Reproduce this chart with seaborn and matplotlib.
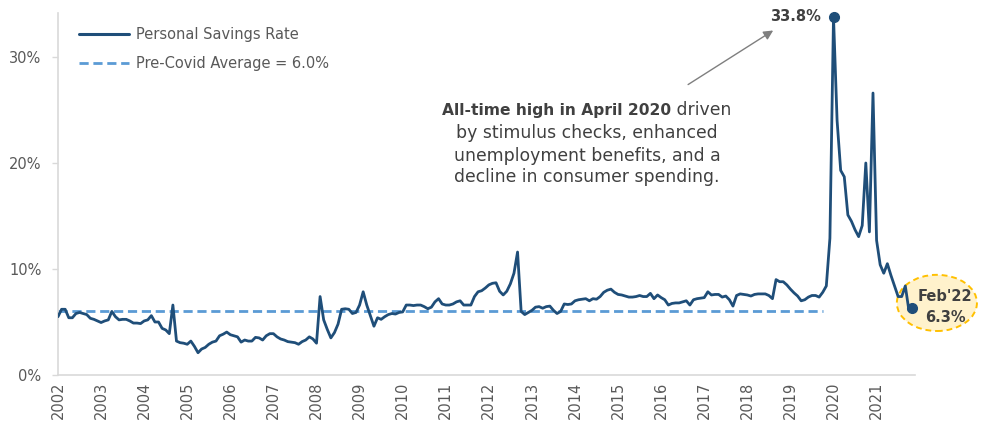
import matplotlib
matplotlib.use("Agg")
import matplotlib.pyplot as plt
import seaborn as sns
import numpy as np
import pandas as pd
from matplotlib.patches import Ellipse
from matplotlib.lines import Line2D

# ---------------- data (monthly, Apr 2002 .. Feb 2022) ----------------
savings_rate = [
    5.5, 6.2, 6.2, 5.4, 5.4, 5.8, 5.9, 5.8, 5.7, 5.35, 5.25, 5.1,
    4.95, 5.1, 5.2, 6.0, 5.5, 5.2, 5.25, 5.25, 5.1, 4.9, 4.9, 4.85,
    5.1, 5.2, 5.6, 5.0, 5.0, 4.4, 4.25, 3.9, 6.6, 3.2, 3.05, 3.0,
    2.9, 3.2, 2.7, 2.1, 2.45, 2.6, 2.9, 3.1, 3.2, 3.7, 3.85, 4.05,
    3.8, 3.7, 3.6, 3.1, 3.3, 3.2, 3.2, 3.55, 3.5, 3.3, 3.7, 3.9,
    3.9, 3.6, 3.4, 3.3, 3.15, 3.1, 3.05, 2.9, 3.15, 3.3, 3.6, 3.4,
    3.0, 7.4, 5.2, 4.3, 3.5, 4.0, 4.8, 6.2, 6.25, 6.2, 5.8, 5.9,
    6.6, 7.85, 6.6, 5.6, 4.6, 5.4, 5.25, 5.5, 5.7, 5.8, 5.75, 5.9,
    5.95, 6.6, 6.6, 6.55, 6.6, 6.6, 6.45, 6.25, 6.4, 6.9, 7.2, 6.7,
    6.6, 6.6, 6.7, 6.9, 7.0, 6.6, 6.6, 6.6, 7.4, 7.85, 7.95, 8.2,
    8.5, 8.65, 8.7, 7.9, 7.55, 7.9, 8.6, 9.6, 11.6, 6.0, 5.7, 5.9,
    6.1, 6.4, 6.45, 6.3, 6.45, 6.5, 6.1, 5.8, 6.0, 6.7, 6.65, 6.7,
    7.0, 7.1, 7.15, 7.2, 7.0, 7.2, 7.15, 7.4, 7.8, 8.0, 8.1, 7.8,
    7.6, 7.55, 7.45, 7.35, 7.35, 7.4, 7.5, 7.4, 7.4, 7.7, 7.2, 7.55,
    7.3, 7.1, 6.6, 6.75, 6.8, 6.8, 6.9, 7.0, 6.6, 7.1, 7.2, 7.25,
    7.3, 7.85, 7.55, 7.6, 7.6, 7.35, 7.45, 7.1, 6.5, 7.5, 7.65, 7.6,
    7.55, 7.45, 7.6, 7.65, 7.65, 7.65, 7.5, 7.2, 9.0, 8.8, 8.8, 8.5,
    8.1, 7.75, 7.45, 7.0, 7.1, 7.35, 7.5, 7.5, 7.35, 7.8, 8.4, 12.9,
    33.8, 24.0, 19.3, 18.7, 15.1, 14.5, 13.7, 13.05, 14.1, 20.0, 13.5, 26.6,
    12.7, 10.4, 9.6, 10.5, 9.4, 8.4, 7.4, 7.4, 8.4, 6.1, 6.3,
]
pre_covid_avg = 6.0
pre_covid_last_index = 213          # Jan 2020
year_labels = [str(y) for y in range(2002, 2022)]
year_tick_index = list(range(0, 12 * len(year_labels), 12))
y_ticks = [0, 10, 20, 30]
peak_index = 216                    # April 2020
peak_label = "33.8%"
end_label_1 = "Feb'22"
end_label_2 = "6.3%"
series_name = "Personal Savings Rate"
avg_name = "Pre-Covid Average = 6.0%"
note_bold = "All-time high in April 2020"
note_tail = " driven"
note_rest = ["by stimulus checks, enhanced",
             "unemployment benefits, and a",
             "decline in consumer spending."]

# ---------------- style ----------------
sns.set_theme(style="white")
plt.rcParams['font.family'] = ['DejaVu Sans']

DARK = '#1F4E79'
LIGHT = '#5B9BD5'
GRAY = '#595959'
TXT = '#404040'

fig = plt.figure(figsize=(9.85, 4.25), dpi=100)
ax = fig.add_axes([58 / 985, 50 / 425, 857 / 985, 362 / 425])

df = pd.DataFrame({'idx': np.arange(len(savings_rate)), 'rate': savings_rate})
sns.lineplot(data=df, x='idx', y='rate', ax=ax, color=DARK, lw=2.0, zorder=3)

avg_df = pd.DataFrame({'idx': np.arange(pre_covid_last_index + 1),
                       'avg': [pre_covid_avg] * (pre_covid_last_index + 1)})
sns.lineplot(data=avg_df, x='idx', y='avg', ax=ax, color=LIGHT, lw=2.0,
             dashes=False, zorder=2)
ax.lines[-1].set_linestyle((0, (3.3, 1.7)))

ax.set_xlim(0, 238.7)
ax.set_ylim(0, 34.15)
ax.set_xlabel('')
ax.set_ylabel('')

ax.set_xticks(year_tick_index)
ax.set_xticklabels(year_labels, rotation=90)
ax.set_yticks(y_ticks)
ax.set_yticklabels([f"{v}%" for v in y_ticks])
ax.tick_params(axis='x', length=0, pad=5, labelsize=10.5, labelcolor=GRAY)
ax.tick_params(axis='y', length=4, width=1, color='#D9D9D9', pad=8,
               labelsize=10.5, labelcolor=GRAY, left=True)

for s in ['top', 'right']:
    ax.spines[s].set_visible(False)
for s in ['left', 'bottom']:
    ax.spines[s].set_color('#D9D9D9')
    ax.spines[s].set_linewidth(1.2)

# legend
handles = [Line2D([0], [0], color=DARK, lw=2.2),
           Line2D([0], [0], color=LIGHT, lw=2.0, linestyle=(0, (3.3, 1.7)))]
ax.legend(handles, [series_name, avg_name], loc='upper left',
          bbox_to_anchor=(21 / 857, 0.96), frameon=False, fontsize=10.5,
          handlelength=3.4, handletextpad=0.5, labelspacing=0.9,
          borderpad=0, borderaxespad=0, labelcolor=GRAY)

# peak marker + label
peak_val = savings_rate[peak_index]
ax.plot([peak_index], [peak_val], 'o', ms=7, color=DARK, clip_on=False, zorder=5)
ax.annotate(peak_label, xy=(peak_index, peak_val), xytext=(-9, 0),
            textcoords='offset points', ha='right', va='center',
            fontsize=10.5, fontweight='bold', color=TXT, annotation_clip=False)

# arrow
ax.annotate('', xy=(199.2, 32.5), xytext=(175.5, 27.4),
            arrowprops=dict(arrowstyle='-|>', color='#7F7F7F', lw=1.0,
                            mutation_scale=14, shrinkA=0, shrinkB=0))

# note text
base_y = 24.55
t1 = ax.text(170.7, base_y, note_bold, ha='right', va='baseline',
             fontsize=11.2, fontweight='bold', color=TXT)
fig.canvas.draw()
bb = t1.get_window_extent()
x_end = ax.transData.inverted().transform((bb.x1, 0))[0]
ax.text(x_end, base_y, note_tail, ha='left', va='baseline',
        fontsize=12.4, color=TXT)
for k, line in enumerate(note_rest):
    ax.text(147.4, [22.83, 20.66, 18.68][k], line, ha='center', va='center',
            fontsize=12.4, color=TXT)

# end callout
ell = Ellipse((244.8, 6.8), 22.3, 5.3, facecolor='#FFF2CC', edgecolor='#FFC000',
              linestyle=(0, (3, 2)), lw=1.4, clip_on=False, zorder=1.5)
ax.add_patch(ell)
end_i = len(savings_rate) - 1
ax.plot([end_i], [savings_rate[end_i]], 'o', ms=7, color=DARK, clip_on=False, zorder=5)
ax.text(247.1, 7.45, end_label_1, ha='center', va='center', fontsize=10.5,
        fontweight='bold', color=TXT, clip_on=False)
ax.text(247.1, 5.47, end_label_2, ha='center', va='center', fontsize=10.5,
        fontweight='bold', color=TXT, clip_on=False)

fig.savefig('out.png', dpi=100)
